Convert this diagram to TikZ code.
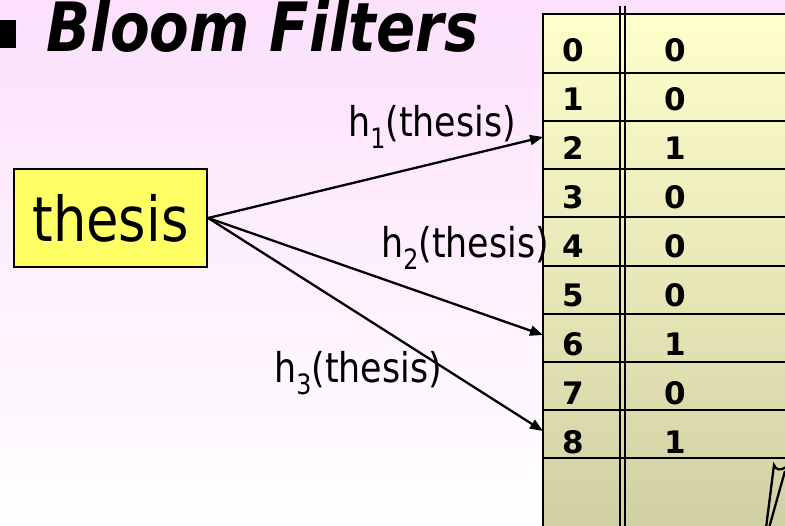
\documentclass[tikz,border=0pt]{standalone}
\usepackage{fontspec}
\setmainfont{DejaVu Sans}
\newfontfamily\labfont{DejaVu Sans}[FakeStretch=0.85]
\usetikzlibrary{arrows.meta}
\definecolor{bgpink}{RGB}{252,224,252}
\definecolor{tabtop}{RGB}{255,255,204}
\definecolor{tabbot}{RGB}{208,208,164}
\definecolor{boxyellow}{RGB}{255,255,102}
\tikzset{
  gridline/.style={line width=2.3pt},
  digit/.style={font=\bfseries\fontsize{31}{31}\selectfont, anchor=center, inner sep=0pt},
  hashlabel/.style={font=\labfont\fontsize{41}{41}\selectfont, anchor=base, inner sep=0pt},
  arr/.style={line width=2.3pt, -{Triangle[length=13pt,width=10pt]}},
}
\newcommand{\hsub}[1]{h\raisebox{-12pt}{\fontsize{28}{28}\selectfont #1}(thesis)}
\begin{document}
\begin{tikzpicture}[x=1pt,y=-1pt]
\useasboundingbox (0,0) rectangle (785,526);
\shade[top color=bgpink, bottom color=white] (0,0) rectangle (785,526);
% table
\shade[top color=tabtop, bottom color=tabbot] (543,14) rectangle (790,530);
\draw[gridline] (790,14) -- (543,14) -- (543,530);
\foreach \yy in {73,121,169,217,266,314,362,410,458}
  \draw[gridline] (543,\yy) -- (790,\yy);
\draw[line width=2pt] (620,6) -- (620,530);
\draw[line width=2pt] (624.5,6) -- (624.5,530);
\foreach \i/\v in {0/0,1/0,2/1,3/0,4/0,5/0,6/1,7/0,8/1}{
  \node[digit] (k\i) at (573,{50+49*\i}) {\i};
  \node[digit] (v\i) at (675,{50+49*\i}) {\v};
}
% callout fragment
\draw[line width=2.3pt] (766,528) -- (774,465) .. controls (776,470) and (780,471) .. (786,467);
\draw[line width=2.3pt] (785,471) -- (769,528);
% title
\node[fill=black, minimum width=16pt, minimum height=28pt, inner sep=0pt, anchor=north west] (bullet) at (0,20) {};
\node[font=\labfont\bfseries\itshape\fontsize{68}{68}\selectfont, anchor=base west, inner sep=0pt] (title) at (46,52) {Bloom Filters};
% key box
\node[draw, fill=boxyellow, line width=2.3pt, minimum width=193pt, minimum height=98pt, inner sep=0pt,
      font=\labfont\fontsize{62}{62}\selectfont] (thesis) at (110.5,218) {thesis};
% targets
\coordinate (t1) at (543,137);
\coordinate (t2) at (543,335);
\coordinate (t3) at (543,431);
\draw[arr] (thesis.east) -- (t1);
\draw[arr] (thesis.east) -- (t2);
\draw[arr] (thesis.east) -- (t3);
% labels
\node[hashlabel] (h1) at (432,137) {\hsub{1}};
\node[hashlabel] (h2) at (465,258) {\hsub{2}};
\node[hashlabel] (h3) at (358,383) {\hsub{3}};
\end{tikzpicture}
\end{document}
